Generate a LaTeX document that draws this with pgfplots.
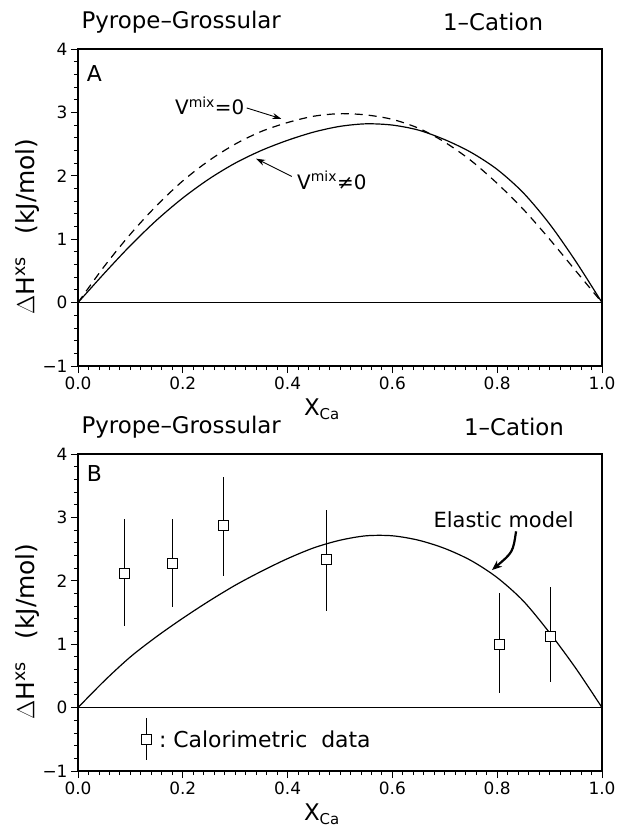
\documentclass[border=0pt]{standalone}
\usepackage{pgfplots}
\pgfplotsset{compat=1.18}
\usepackage{fontspec}
\setmainfont{DejaVu Sans}
\usetikzlibrary{arrows.meta}

\pgfplotsset{
  panel/.style={
    scale only axis, width=524bp, height=317bp,
    xmin=0, xmax=1, ymin=-1, ymax=4,
    xtick={0,0.2,0.4,0.6,0.8,1}, xticklabels={0.0,0.2,0.4,0.6,0.8,1.0},
    ytick={-1,0,1,2,3,4}, yticklabels={−1,0,1,2,3,4},
    minor x tick num=9, minor y tick num=4,
    tick align=outside, xtick pos=lower, ytick pos=left,
    major tick length=7bp, minor tick length=4bp,
    every tick/.style={black, line width=0.9bp},
    tick label style={font=\fontsize{17}{17}\selectfont},
    axis line style={line width=1.3bp},
    clip=false,
    xlabel={X\raisebox{-0.35ex}{\fontsize{15}{15}\selectfont Ca}},
    xlabel style={at={(axis description cs:0.465,0)}, anchor=north, yshift=-29bp, font=\fontsize{23}{23}\selectfont},
    ylabel={$\Delta$H\textsuperscript{xs}\hspace{0.9em}(kJ/mol)},
    ylabel style={at={(axis description cs:-0.067,0.44)}, anchor=south, font=\fontsize{25}{25}\selectfont},
  }
}

\begin{document}
\begin{tikzpicture}
\path[use as bounding box] (-78bp,-468bp) rectangle (541bp,366bp);

% ---------------- Panel A ----------------
\begin{axis}[panel, at={(0bp,0bp)}, anchor=south west]
\addplot[line width=1.3bp] coordinates {(0,0) (1,0)};
% V^mix != 0 (solid)
\addplot[line width=1.2bp, smooth] coordinates {
(0,0) (0.05,0.46) (0.10,0.90) (0.15,1.30) (0.20,1.65) (0.25,1.95) (0.30,2.20)
(0.35,2.40) (0.40,2.56) (0.45,2.69) (0.50,2.78) (0.55,2.82) (0.60,2.80)
(0.65,2.72) (0.70,2.57) (0.75,2.37) (0.80,2.10) (0.85,1.73) (0.90,1.24)
(0.95,0.65) (1,0)};
% V^mix = 0 (dashed)
\addplot[line width=1.2bp, smooth, dash pattern=on 8bp off 6bp] coordinates {
(0,0) (0.05,0.57) (0.10,1.08) (0.15,1.53) (0.20,1.92) (0.25,2.24) (0.30,2.50)
(0.35,2.70) (0.40,2.84) (0.45,2.94) (0.50,2.98) (0.55,2.96) (0.60,2.89)
(0.65,2.75) (0.70,2.53) (0.75,2.24) (0.80,1.88) (0.85,1.47) (0.90,1.00)
(0.95,0.50) (1,0)};
\node[anchor=west, font=\fontsize{23}{23}\selectfont] at (axis cs:0.0,4.42) {Pyrope–Grossular};
\node[anchor=west, font=\fontsize{23}{23}\selectfont] at (axis cs:0.69,4.42) {1–Cation};
\node[anchor=west, font=\fontsize{22}{22}\selectfont] at (axis cs:0.01,3.62) {A};
\node[anchor=west, font=\fontsize{20}{20}\selectfont, inner sep=0pt] at (axis cs:0.185,3.1) {V\textsuperscript{mix}=0};
\draw[line width=0.9bp, -{Stealth[length=9bp,width=6bp]}] (axis cs:0.322,3.07) -- (axis cs:0.388,2.90);
\node[anchor=west, font=\fontsize{20}{20}\selectfont, inner sep=0pt] at (axis cs:0.418,1.93) {V\textsuperscript{mix}≠0};
\draw[line width=0.9bp, -{Stealth[length=9bp,width=6bp]}] (axis cs:0.408,1.99) -- (axis cs:0.34,2.27);
\end{axis}

% ---------------- Panel B ----------------
\begin{axis}[panel, at={(0bp,-405bp)}, anchor=south west]
\addplot[line width=1.3bp] coordinates {(0,0) (1,0)};
% Elastic model
\addplot[line width=1.2bp, smooth] coordinates {
(0,0) (0.05,0.42) (0.10,0.80) (0.15,1.12) (0.20,1.41) (0.25,1.68) (0.30,1.93)
(0.35,2.15) (0.40,2.35) (0.45,2.52) (0.50,2.64) (0.55,2.71) (0.60,2.71)
(0.65,2.64) (0.70,2.51) (0.75,2.32) (0.80,2.05) (0.85,1.68) (0.90,1.18)
(0.95,0.62) (1,0)};
% Calorimetric data
\addplot[only marks, mark=square*, mark size=5bp,
  mark options={fill=white, draw=black, line width=0.8bp},
  error bars/.cd, y dir=both, y explicit, error mark=none,
  error bar style={line width=0.9bp, black}]
  table[x=x, y=y, y error plus=ep, y error minus=em] {
x     y     ep    em
0.088 2.12  0.85  0.83
0.18  2.27  0.70  0.68
0.278 2.88  0.76  0.80
0.474 2.33  0.79  0.80
0.805 1.00  0.80  0.77
0.902 1.13  0.77  0.73
};
% legend marker
\addplot[only marks, mark=square*, mark size=5bp,
  mark options={fill=white, draw=black, line width=0.8bp},
  error bars/.cd, y dir=both, y explicit, error mark=none,
  error bar style={line width=0.9bp, black}]
  coordinates {(0.13,-0.5) +- (0,0.33)};
\node[anchor=west, font=\fontsize{22}{22}\selectfont] at (axis cs:0.148,-0.5) {:\ Calorimetric\ \ data};
\node[anchor=west, font=\fontsize{23}{23}\selectfont] at (axis cs:0.0,4.42) {Pyrope–Grossular};
\node[anchor=west, font=\fontsize{23}{23}\selectfont] at (axis cs:0.73,4.42) {1–Cation};
\node[anchor=west, font=\fontsize{22}{22}\selectfont] at (axis cs:0.01,3.7) {B};
\node[anchor=west, font=\fontsize{21}{21}\selectfont] at (axis cs:0.672,2.96) {Elastic model};
\draw[line width=2.2bp, -{Stealth[length=10bp,width=8bp]}] (axis cs:0.836,2.78) .. controls (axis cs:0.83,2.45) .. (axis cs:0.79,2.17);
\end{axis}
\end{tikzpicture}
\end{document}
